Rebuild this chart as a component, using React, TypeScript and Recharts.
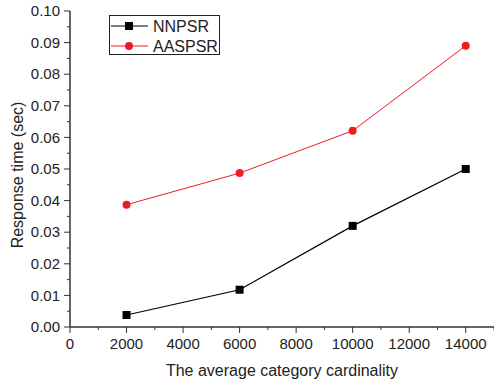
import { LineChart, Line, XAxis, YAxis, Legend } from "recharts";

// category cardinality (x) and response time in seconds for both methods
const cardinality = [2000, 6000, 10000, 14000];
const nnpsr = [0.0038, 0.0118, 0.032, 0.05];
const aaspsr = [0.0387, 0.0487, 0.0621, 0.089];

// major ticks every 2000 / 0.01, minor ticks halfway between
const xTicks = [0, 1000, 2000, 3000, 4000, 5000, 6000, 7000, 8000, 9000, 10000, 11000, 12000, 13000, 14000, 15000];
const yTicks = [0, 0.005, 0.01, 0.015, 0.02, 0.025, 0.03, 0.035, 0.04, 0.045, 0.05, 0.055, 0.06, 0.065, 0.07, 0.075, 0.08, 0.085, 0.09, 0.095, 0.1];

const RED = "#ed1c24";
const AXIS = "#333";
const FONT = "Arial, 'Liberation Sans', sans-serif";

const data = cardinality.map((c, i) => ({ c, nnpsr: nnpsr[i], aaspsr: aaspsr[i] }));

const XTick = (props: any) => {
  const { x, y, payload, index } = props;
  const major = index % 2 === 0;
  return (
    <g>
      <line x1={x} x2={x} y1={y} y2={y + (major ? 6 : 3)} stroke={AXIS} strokeWidth={1} />
      {major && (
        <text x={x} y={y + 22} textAnchor="middle" fontSize={15} fontFamily={FONT} fill="#222">
          {payload.value}
        </text>
      )}
    </g>
  );
};

const YTick = (props: any) => {
  const { x, y, payload, index } = props;
  const major = index % 2 === 0;
  return (
    <g>
      <line x1={x} x2={x - (major ? 6 : 3)} y1={y} y2={y} stroke={AXIS} strokeWidth={1} />
      {major && (
        <text x={x - 10} y={y} dy="0.35em" textAnchor="end" fontSize={15} fontFamily={FONT} fill="#222">
          {payload.value.toFixed(2)}
        </text>
      )}
    </g>
  );
};

const SquareDot = (props: any) => {
  const { cx, cy } = props;
  return <rect x={cx - 4} y={cy - 4} width={8} height={8} fill="#000" />;
};

const YTitle = (props: any) => {
  const { viewBox } = props;
  const cx = viewBox.x + 17;
  const cy = viewBox.y + viewBox.height / 2 + 6;
  return (
    <text x={cx} y={cy} transform={`rotate(-90 ${cx} ${cy})`} textAnchor="middle" dy="0.35em" fontSize={16} fontFamily={FONT} fill="#222">
      Response time (sec)
    </text>
  );
};

const XTitle = (props: any) => {
  const { viewBox } = props;
  const cx = viewBox.x + viewBox.width / 2;
  return (
    <text x={cx} y={viewBox.y + 49} textAnchor="middle" fontSize={16} fontFamily={FONT} fill="#222">
      The average category cardinality
    </text>
  );
};

const LegendBox = () => {
  const rows = [
    { name: "NNPSR", color: "#000", square: true },
    { name: "AASPSR", color: RED, square: false },
  ];
  return (
    <svg width={111} height={40} style={{ display: "block" }}>
      <rect x={0.5} y={0.5} width={110} height={39} fill="#fff" stroke="#222" />
      {rows.map((r, i) => {
        const cy = 11 + i * 20;
        return (
          <g key={r.name}>
            <line x1={2} x2={39} y1={cy} y2={cy} stroke={r.color} strokeWidth={1} />
            {r.square ? (
              <rect x={16} y={cy - 4} width={8} height={8} fill={r.color} />
            ) : (
              <circle cx={20} cy={cy} r={4} fill={r.color} />
            )}
            <text x={44} y={cy} dy="0.35em" fontSize={16} fontFamily={FONT} fill="#222">
              {r.name}
            </text>
          </g>
        );
      })}
    </svg>
  );
};

export default function App() {
  return (
    <div style={{ position: "absolute", left: 0, top: 0, background: "#fff" }}>
      <LineChart width={494} height={385} data={data} margin={{ top: 11, right: 0, left: 0, bottom: 0 }}>
        <XAxis
          dataKey="c"
          type="number"
          domain={[0, 15000]}
          ticks={xTicks}
          interval={0}
          height={58}
          tickSize={0}
          tickMargin={0}
          tickLine={false}
          axisLine={{ stroke: AXIS, strokeWidth: 1.5 }}
          tick={<XTick />}
          label={<XTitle />}
        />
        <YAxis
          type="number"
          domain={[0, 0.1]}
          ticks={yTicks}
          interval={0}
          width={70}
          tickSize={0}
          tickMargin={0}
          tickLine={false}
          axisLine={{ stroke: AXIS, strokeWidth: 1.5 }}
          tick={<YTick />}
          label={<YTitle />}
        />
        <Legend
          layout="vertical"
          align="center"
          verticalAlign="middle"
          content={<LegendBox />}
          wrapperStyle={{ left: 109, top: 15, width: 111, height: 40 }}
        />
        <Line
          dataKey="nnpsr"
          name="NNPSR"
          stroke="#000"
          strokeWidth={1.2}
          dot={<SquareDot />}
          activeDot={false}
          isAnimationActive={false}
        />
        <Line
          dataKey="aaspsr"
          name="AASPSR"
          stroke={RED}
          strokeWidth={1}
          dot={{ r: 4, fill: RED, stroke: RED, strokeWidth: 0 }}
          activeDot={false}
          isAnimationActive={false}
        />
      </LineChart>
    </div>
  );
}
